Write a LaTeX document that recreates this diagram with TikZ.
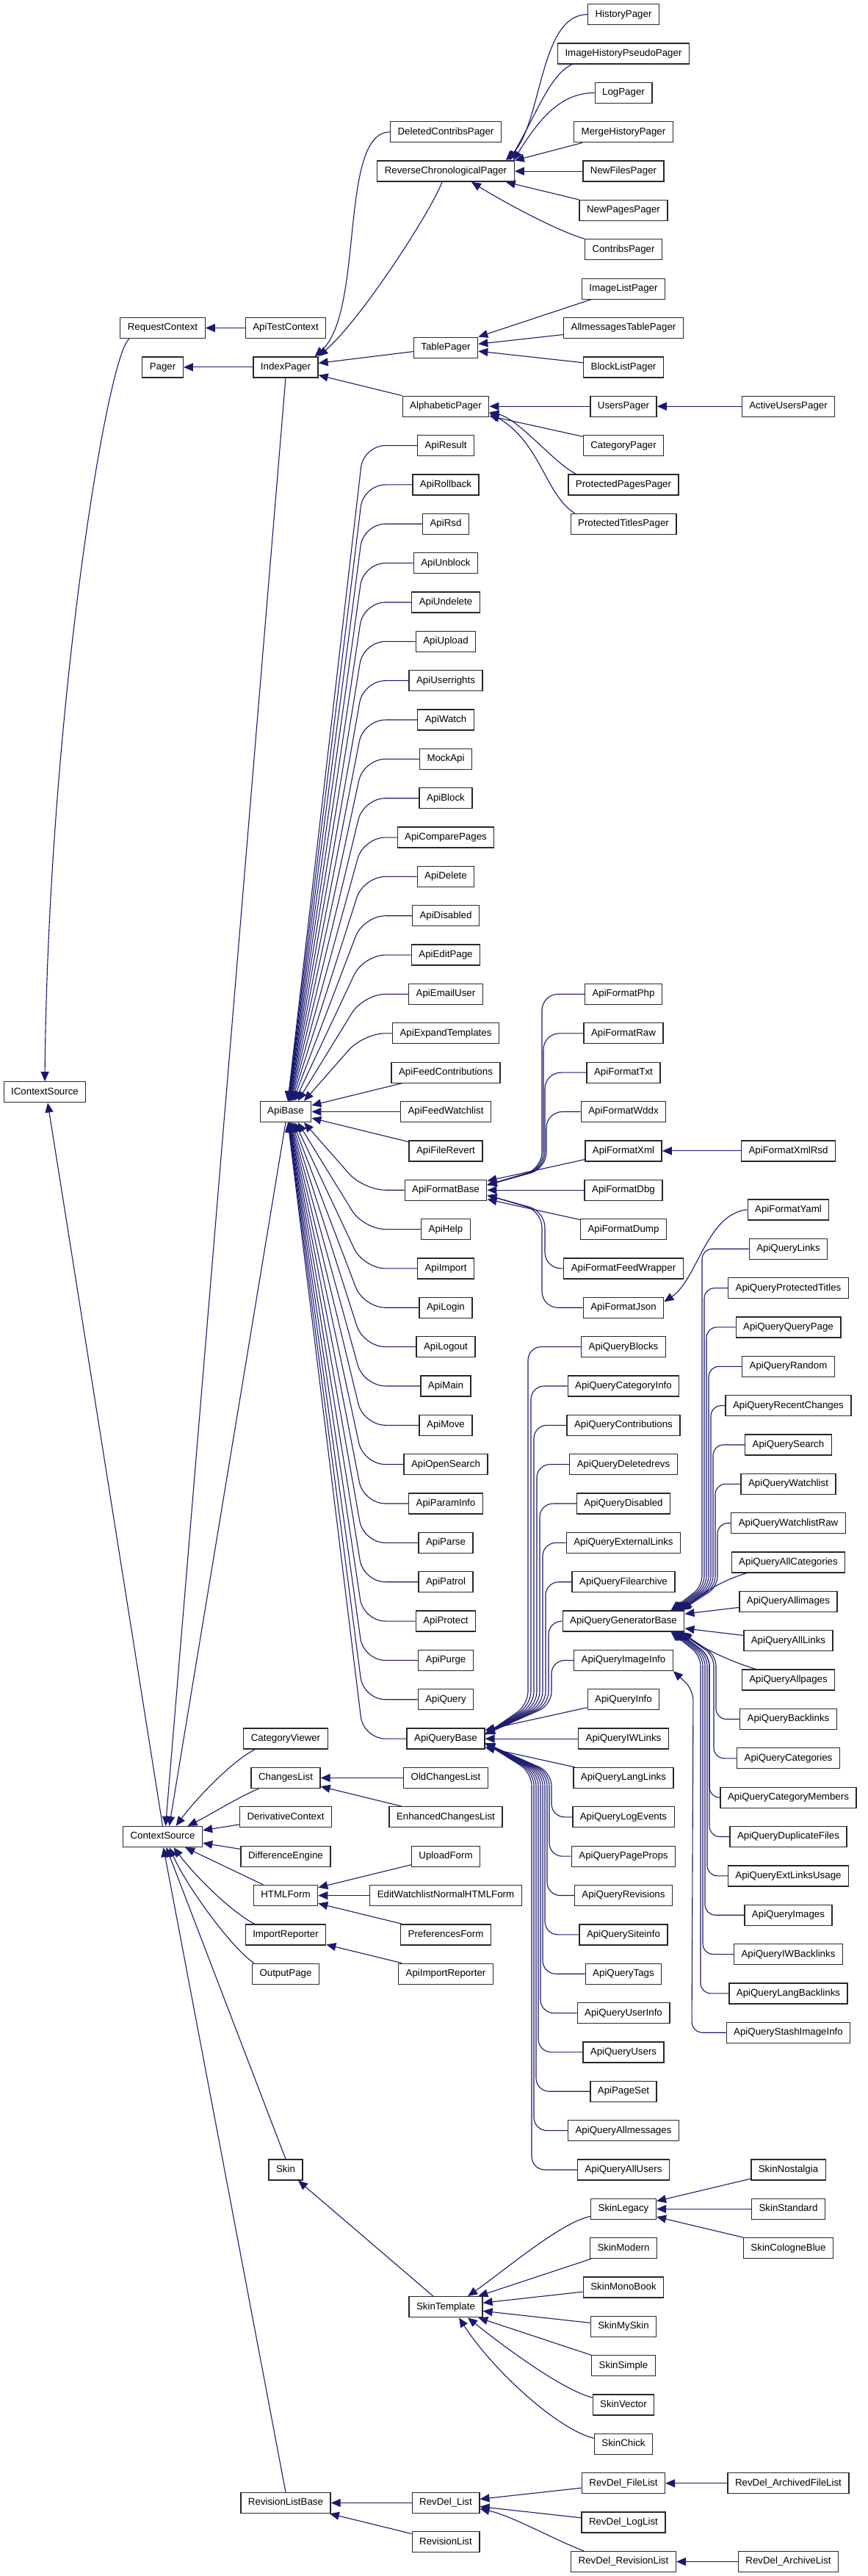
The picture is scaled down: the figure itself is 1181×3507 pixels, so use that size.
\documentclass[tikz,border=0pt]{standalone}
\usepackage{fontspec}
\setmainfont{Liberation Sans}
\usetikzlibrary{arrows.meta,calc}
\definecolor{edgeblue}{RGB}{25,25,112}
\definecolor{boxc}{RGB}{40,40,40}
\pgfdeclarelayer{bg}
\pgfsetlayers{bg,main}
\newcommand\rowy[1]{19.7+53.35*#1}
\newcommand\nd[4]{\node[cbox] (#1) at (#2,{\rowy{#3}}) {#4};}
\newcommand\ab[3]{\draw[iedge,rounded corners=30pt] (#1.west) -- (495,{\rowy{#2}}) -- ($(ApiBase.#3)+({50/abs(28-#2)},0)$);}
\newcommand\pv[6]{\draw[iedge,rounded corners=#6] (#1.west) -- (#3,{\rowy{#2}}) -- (#3,#5) -- (#4);}
\newcommand\gv[6]{\draw[iedge,rounded corners=14pt] (#1.west) -- (#3,{\rowy{#2}}) -- (#3,#5) -- ($(ApiQueryGeneratorBase.#6)+(#4,0)$);}
\def\colA{61}\def\colB{221.5}\def\colC{389}\def\colD{607}\def\colE{849}\def\colF{1073.5}
\begin{document}
\begin{tikzpicture}[x=1pt,y=-1pt,
 cbox/.style={draw=boxc,line width=1.3pt,fill=white,minimum height=28pt,inner xsep=10pt,inner ysep=0pt,font=\fontsize{13.3}{15}\selectfont,text height=9.6pt,text depth=2.7pt},
 iedge/.style={draw=edgeblue,line width=1.1pt,-{Triangle[length=13pt,width=11pt]}}]
\useasboundingbox (0,0) rectangle (1181,3507);
% ---------- nodes ----------
\nd{IContextSource}{\colA}{27.5}{IContextSource}
\foreach \n/\k in {RequestContext/8,Pager/9,ContextSource/46.5}{\nd{\n}{\colB}{\k}{\n}}
\foreach \n/\k in {ApiTestContext/8,IndexPager/9,ApiBase/28,CategoryViewer/44,ChangesList/45,DerivativeContext/46,DifferenceEngine/47,HTMLForm/48,ImportReporter/49,OutputPage/50,Skin/55,RevisionListBase/63.5}{\nd{\n}{\colC}{\k}{\n}}
\nd{RCP}{\colD}{4}{ReverseChronologicalPager}
\nd{RevDelList}{\colD}{63.5}{RevDel\_List}
\foreach \n/\k in {DeletedContribsPager/3,TablePager/8.5,AlphabeticPager/10,ApiResult/11,ApiRollback/12,ApiRsd/13,ApiUnblock/14,ApiUndelete/15,ApiUpload/16,ApiUserrights/17,ApiWatch/18,MockApi/19,ApiBlock/20,ApiComparePages/21,ApiDelete/22,ApiDisabled/23,ApiEditPage/24,ApiEmailUser/25,ApiExpandTemplates/26,ApiFeedContributions/27,ApiFeedWatchlist/28,ApiFileRevert/29,ApiFormatBase/30,ApiHelp/31,ApiImport/32,ApiLogin/33,ApiLogout/34,ApiMain/35,ApiMove/36,ApiOpenSearch/37,ApiParamInfo/38,ApiParse/39,ApiPatrol/40,ApiProtect/41,ApiPurge/42,ApiQuery/43,ApiQueryBase/44,OldChangesList/45,EnhancedChangesList/46,UploadForm/47,EditWatchlistNormalHTMLForm/48,PreferencesForm/49,ApiImportReporter/50,SkinTemplate/58.5,RevisionList/64.5}{\nd{\n}{\colD}{\k}{\n}}
\foreach \n/\k in {HistoryPager/0,ImageHistoryPseudoPager/1,LogPager/2,MergeHistoryPager/3,NewFilesPager/4,NewPagesPager/5,ContribsPager/6,ImageListPager/7,AllmessagesTablePager/8,BlockListPager/9,UsersPager/10,CategoryPager/11,ProtectedPagesPager/12,ProtectedTitlesPager/13,ApiFormatPhp/25,ApiFormatRaw/26,ApiFormatTxt/27,ApiFormatWddx/28,ApiFormatXml/29,ApiFormatDbg/30,ApiFormatDump/31,ApiFormatFeedWrapper/32,ApiFormatJson/33,ApiQueryBlocks/34,ApiQueryCategoryInfo/35,ApiQueryContributions/36,ApiQueryDeletedrevs/37,ApiQueryDisabled/38,ApiQueryExternalLinks/39,ApiQueryFilearchive/40,ApiQueryGeneratorBase/41,ApiQueryImageInfo/42,ApiQueryInfo/43,ApiQueryIWLinks/44,ApiQueryLangLinks/45,ApiQueryLogEvents/46,ApiQueryPageProps/47,ApiQueryRevisions/48,ApiQuerySiteinfo/49,ApiQueryTags/50,ApiQueryUserInfo/51,ApiQueryUsers/52,ApiPageSet/53,ApiQueryAllmessages/54,ApiQueryAllUsers/55,SkinLegacy/56,SkinModern/57,SkinMonoBook/58,SkinMySkin/59,SkinSimple/60,SkinVector/61,SkinChick/62}{\nd{\n}{\colE}{\k}{\n}}
\nd{RevDelFileList}{\colE}{63}{RevDel\_FileList}
\nd{RevDelLogList}{\colE}{64}{RevDel\_LogList}
\nd{RevDelRevisionList}{\colE}{65}{RevDel\_RevisionList}
\foreach \n/\k in {ActiveUsersPager/10,ApiFormatXmlRsd/29,ApiFormatYaml/30.5,ApiQueryLinks/31.5,ApiQueryProtectedTitles/32.5,ApiQueryQueryPage/33.5,ApiQueryRandom/34.5,ApiQueryRecentChanges/35.5,ApiQuerySearch/36.5,ApiQueryWatchlist/37.5,ApiQueryWatchlistRaw/38.5,ApiQueryAllCategories/39.5,ApiQueryAllimages/40.5,ApiQueryAllLinks/41.5,ApiQueryAllpages/42.5,ApiQueryBacklinks/43.5,ApiQueryCategories/44.5,ApiQueryCategoryMembers/45.5,ApiQueryDuplicateFiles/46.5,ApiQueryExtLinksUsage/47.5,ApiQueryImages/48.5,ApiQueryIWBacklinks/49.5,ApiQueryLangBacklinks/50.5,ApiQueryStashImageInfo/51.5,SkinNostalgia/55,SkinStandard/56,SkinCologneBlue/57}{\nd{\n}{\colF}{\k}{\n}}
\nd{RevDelArchivedFileList}{\colF}{63}{RevDel\_ArchivedFileList}
\nd{RevDelArchiveList}{\colF}{65}{RevDel\_ArchiveList}
\coordinate (fTt) at ($(ApiFormatBase.east)+(0,-7)$);
\coordinate (fTb) at ($(ApiFormatBase.east)+(0,7)$);
\coordinate (qTt) at ($(ApiQueryBase.east)+(0,-6)$);
\coordinate (qTb) at ($(ApiQueryBase.east)+(0,6)$);
% ---------- edges ----------
\begin{pgfonlayer}{bg}
\fill[white] (0,0) rectangle (1181,3507);
\draw[iedge] (ApiTestContext) -- (RequestContext);
\draw[iedge] (IndexPager) -- (Pager);
\draw[iedge] ($(RequestContext.south west)+(13,0)$) .. controls +(-30,20) and +(5,-500) .. (IContextSource.north);
\draw[iedge] (ContextSource.north) -- ($(IContextSource.south)+(4,0)$);
\draw[iedge] (IndexPager.south) -- ($(ContextSource.north)+(4,0)$);
\draw[iedge] (ApiBase.south) -- ($(ContextSource.north)+(9,0)$);
% IndexPager children
\draw[iedge] (DeletedContribsPager.west) .. controls +(-70,0) and +(68,-61) .. ($(IndexPager.north east)+(-5,0)$);
\draw[iedge] ($(RCP.south)+(-5,0)$) .. controls +(-15,40) and +(58,-50) .. (IndexPager.north east);
\draw[iedge] (TablePager) -- (IndexPager);
\draw[iedge] (AlphabeticPager) -- (IndexPager);
% RCP children
\draw[iedge] (HistoryPager.west) .. controls +(-66,0) and +(50,-50) .. ($(RCP.north east)+(-12,0)$);
\draw[iedge] ($(ImageHistoryPseudoPager.south west)+(20,0)$) .. controls +(-30,15) and +(40,-70) .. ($(RCP.north east)+(-7,0)$);
\draw[iedge] (LogPager.west) .. controls +(-50,0) and +(32,-50) .. ($(RCP.north east)+(-2,0)$);
\draw[iedge] (MergeHistoryPager) -- (RCP.north east);
\draw[iedge] (NewFilesPager) -- (RCP);
\draw[iedge] (NewPagesPager) -- ($(RCP.south east)+(-12,0)$);
\draw[iedge] (ContribsPager.north west) .. controls +(-40,-12) and +(40,25) .. ($(RCP.south)+(35,0)$);
% TablePager children
\draw[iedge] (ImageListPager) -- (TablePager);
\draw[iedge] (AllmessagesTablePager) -- (TablePager);
\draw[iedge] (BlockListPager) -- (TablePager);
% AlphabeticPager children
\draw[iedge] (UsersPager) -- (AlphabeticPager);
\draw[iedge] (ActiveUsersPager) -- (UsersPager);
\draw[iedge] (CategoryPager) -- (AlphabeticPager);
\draw[iedge] ($(ProtectedPagesPager.north west)+(11,0)$) .. controls +(-30,-15) and +(40,9) .. ($(AlphabeticPager.east)+(0,8)$);
\draw[iedge] ($(ProtectedTitlesPager.north west)+(6,0)$) .. controls +(-40,-25) and +(70,40) .. ($(AlphabeticPager.east)+(0,9)$);
% ApiBase children
\foreach \n/\k in {ApiResult/11,ApiRollback/12,ApiRsd/13,ApiUnblock/14,ApiUndelete/15,ApiUpload/16,ApiUserrights/17,ApiWatch/18,MockApi/19,ApiBlock/20,ApiComparePages/21,ApiDelete/22,ApiDisabled/23,ApiEditPage/24,ApiEmailUser/25,ApiExpandTemplates/26}{\ab{\n}{\k}{north}}
\draw[iedge] (ApiFeedContributions) -- (ApiBase);
\draw[iedge] (ApiFeedWatchlist) -- (ApiBase);
\draw[iedge] (ApiFileRevert) -- (ApiBase);
\foreach \n/\k in {ApiFormatBase/30,ApiHelp/31,ApiImport/32,ApiLogin/33,ApiLogout/34,ApiMain/35,ApiMove/36,ApiOpenSearch/37,ApiParamInfo/38,ApiParse/39,ApiPatrol/40,ApiProtect/41,ApiPurge/42,ApiQuery/43,ApiQueryBase/44}{\ab{\n}{\k}{south}}
% ApiFormatBase children
\pv{ApiFormatPhp}{25}{738}{fTt}{1591}{22pt}
\pv{ApiFormatRaw}{26}{740}{fTt}{1591}{22pt}
\pv{ApiFormatTxt}{27}{742}{fTt}{1591}{22pt}
\pv{ApiFormatWddx}{28}{744}{fTt}{1591}{22pt}
\draw[iedge] (ApiFormatXml) -- (ApiFormatBase);
\draw[iedge] (ApiFormatDbg) -- (ApiFormatBase);
\draw[iedge] (ApiFormatDump) -- (ApiFormatBase);
\pv{ApiFormatFeedWrapper}{32}{742}{fTb}{1649}{22pt}
\pv{ApiFormatJson}{33}{738}{fTb}{1649}{22pt}
\draw[iedge] (ApiFormatXmlRsd) -- (ApiFormatXml);
\draw[iedge] (ApiFormatYaml.west) .. controls +(-55,5) and +(45,-30) .. ($(ApiFormatJson.east)+(0,-8)$);
% ApiQueryBase children
\foreach \n/\k/\x in {ApiQueryBlocks/34/719,ApiQueryCategoryInfo/35/723,ApiQueryContributions/36/727,ApiQueryDeletedrevs/37/731,ApiQueryDisabled/38/735,ApiQueryExternalLinks/39/739,ApiQueryFilearchive/40/743,ApiQueryGeneratorBase/41/747,ApiQueryImageInfo/42/751}{\pv{\n}{\k}{\x}{qTt}{2321}{18pt}}
\draw[iedge] (ApiQueryInfo) -- (ApiQueryBase);
\draw[iedge] (ApiQueryIWLinks) -- (ApiQueryBase);
\draw[iedge] (ApiQueryLangLinks) -- (ApiQueryBase);
\foreach \n/\k/\x in {ApiQueryLogEvents/46/751,ApiQueryPageProps/47/748,ApiQueryRevisions/48/745,ApiQuerySiteinfo/49/742,ApiQueryTags/50/739,ApiQueryUserInfo/51/736,ApiQueryUsers/52/733,ApiPageSet/53/730,ApiQueryAllmessages/54/727,ApiQueryAllUsers/55/724}{\pv{\n}{\k}{\x}{qTb}{2413}{18pt}}
% ApiQueryGeneratorBase children
\foreach \n/\k/\x/\q in {ApiQueryLinks/31.5/956/-19,ApiQueryProtectedTitles/32.5/959/-17,ApiQueryQueryPage/33.5/962/-15,ApiQueryRandom/34.5/965/-13,ApiQueryRecentChanges/35.5/968/-11,ApiQuerySearch/36.5/971/-9,ApiQueryWatchlist/37.5/974/-7,ApiQueryWatchlistRaw/38.5/977/-5}{\gv{\n}{\k}{\x}{\q}{2160}{north east}}
\draw[iedge] ($(ApiQueryAllCategories.south west)+(21,0)$) .. controls +(-40,12) and +(20,-18) .. ($(ApiQueryGeneratorBase.north east)+(-3,0)$);
\draw[iedge] (ApiQueryAllimages) -- (ApiQueryGeneratorBase);
\draw[iedge] (ApiQueryAllLinks) -- (ApiQueryGeneratorBase);
\draw[iedge] ($(ApiQueryAllpages.north west)+(20,0)$) .. controls +(-40,-12) and +(20,18) .. ($(ApiQueryGeneratorBase.south east)+(-3,0)$);
\foreach \n/\k/\x/\q in {ApiQueryBacklinks/43.5/975/-5,ApiQueryCategories/44.5/972/-7,ApiQueryCategoryMembers/45.5/966/-9,ApiQueryDuplicateFiles/46.5/966/-11,ApiQueryExtLinksUsage/47.5/963/-13,ApiQueryImages/48.5/960/-15,ApiQueryIWBacklinks/49.5/957/-17,ApiQueryLangBacklinks/50.5/954/-19}{\gv{\n}{\k}{\x}{\q}{2254}{south east}}
\draw[iedge,rounded corners=15pt] (ApiQueryStashImageInfo.west) -- (942,{\rowy{51.5}}) -- (944,2300) -- (ApiQueryImageInfo.south east);
% ContextSource children
\draw[iedge] ($(CategoryViewer.south west)+(16,0)$) .. controls +(-30,15) and +(30,-40) .. ($(ContextSource.north)+(18,0)$);
\draw[iedge] ($(ChangesList.south west)+(11,0)$) .. controls +(-25,10) and +(25,-12) .. ($(ContextSource.north)+(34,0)$);
\draw[iedge] (DerivativeContext) -- (ContextSource);
\draw[iedge] (DifferenceEngine) -- (ContextSource);
\draw[iedge] (HTMLForm) -- (ContextSource);
\draw[iedge] ($(ImportReporter.north west)+(13,0)$) .. controls +(-30,-15) and +(30,40) .. ($(ContextSource.south)+(15,0)$);
\draw[iedge] ($(OutputPage.north west)+(3,0)$) .. controls +(-30,-20) and +(25,55) .. ($(ContextSource.south)+(9,0)$);
\draw[iedge] (Skin.north) -- ($(ContextSource.south)+(5,0)$);
\draw[iedge] (RevisionListBase.north) -- ($(ContextSource.south)+(1,0)$);
% ChangesList, HTMLForm, ImportReporter children
\draw[iedge] (OldChangesList) -- (ChangesList);
\draw[iedge] (EnhancedChangesList) -- (ChangesList);
\draw[iedge] (UploadForm) -- (HTMLForm);
\draw[iedge] (EditWatchlistNormalHTMLForm) -- (HTMLForm);
\draw[iedge] (PreferencesForm) -- (HTMLForm);
\draw[iedge] (ApiImportReporter) -- (ImportReporter);
% Skin
\draw[iedge] (SkinTemplate) -- (Skin);
\draw[iedge] ($(SkinLegacy.west)+(0,10)$) .. controls +(-40,8) and +(50,-35) .. ($(SkinTemplate.north)+(30,0)$);
\draw[iedge] (SkinModern) -- (SkinTemplate);
\draw[iedge] (SkinMonoBook) -- (SkinTemplate);
\draw[iedge] (SkinMySkin) -- (SkinTemplate);
\draw[iedge] (SkinSimple) -- (SkinTemplate);
\draw[iedge] ($(SkinVector.west)+(0,-10)$) .. controls +(-40,-10) and +(50,40) .. ($(SkinTemplate.south)+(30,0)$);
\draw[iedge] ($(SkinChick.west)+(0,-8)$) .. controls +(-50,-12) and +(45,70) .. ($(SkinTemplate.south)+(18,0)$);
\draw[iedge] (SkinNostalgia) -- (SkinLegacy);
\draw[iedge] (SkinStandard) -- (SkinLegacy);
\draw[iedge] (SkinCologneBlue) -- (SkinLegacy);
% RevisionListBase
\draw[iedge] (RevDelList) -- (RevisionListBase);
\draw[iedge] (RevisionList) -- (RevisionListBase);
\draw[iedge] (RevDelFileList) -- (RevDelList);
\draw[iedge] (RevDelLogList) -- (RevDelList);
\draw[iedge] ($(RevDelRevisionList.north west)+(18,0)$) .. controls +(-40,-15) and +(45,10) .. ($(RevDelList.east)+(0,8)$);
\draw[iedge] (RevDelArchivedFileList) -- (RevDelFileList);
\draw[iedge] (RevDelArchiveList) -- (RevDelRevisionList);
\end{pgfonlayer}
\end{tikzpicture}
\end{document}
